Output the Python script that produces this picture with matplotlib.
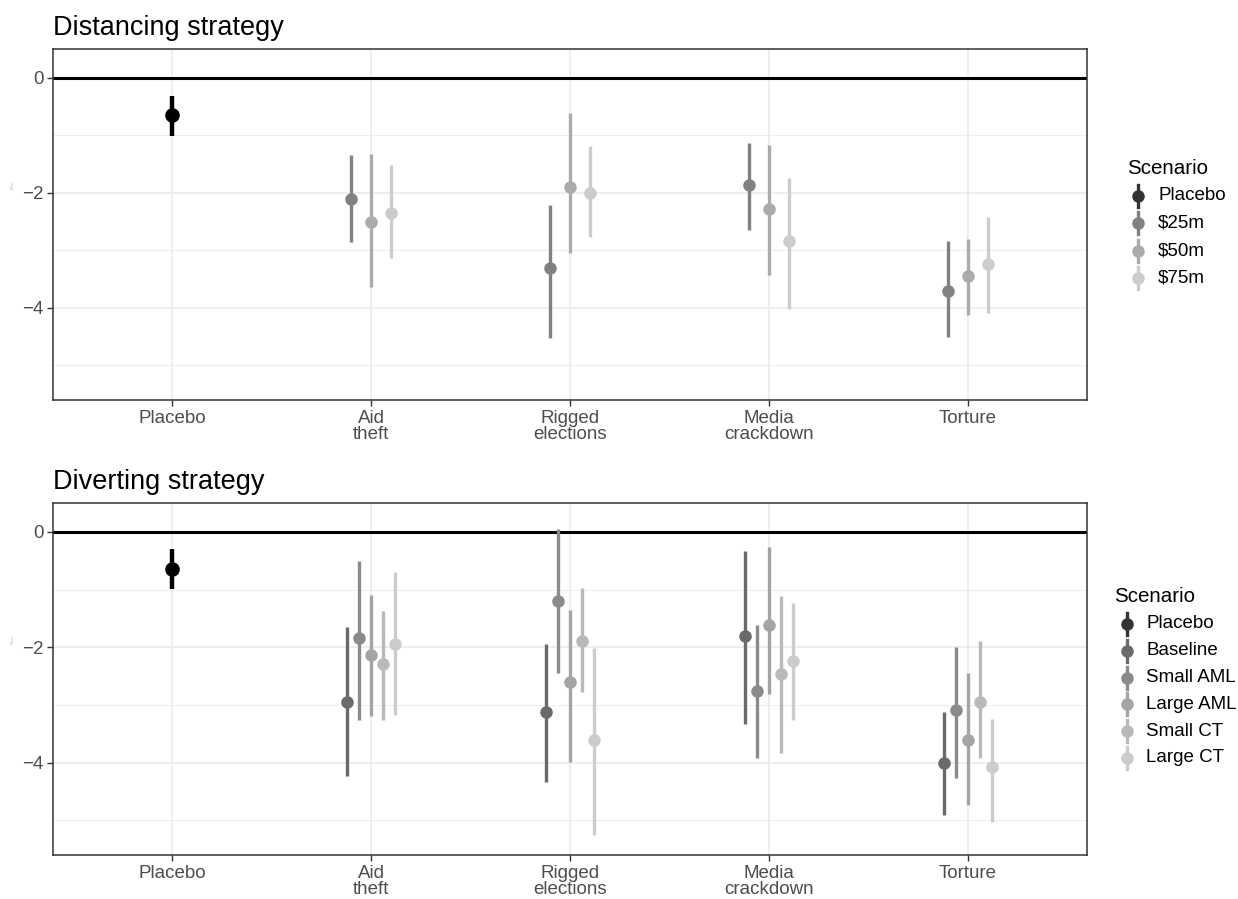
import matplotlib
matplotlib.use("Agg")
import matplotlib.pyplot as plt
from matplotlib.lines import Line2D
import numpy as np

plt.rcParams['font.family'] = ['Liberation Sans', 'DejaVu Sans']

categories = ["Placebo", "Aid\ntheft", "Rigged\nelections", "Media\ncrackdown", "Torture"]

# Placebo estimates (both panels)
placebo_top = (-0.64, -0.31, -1.01)
placebo_bot = (-0.65, -0.30, -0.99)

# Distancing strategy: treatments x (Aid, Rigged, Media, Torture)
dist_series = ["$25m", "$50m", "$75m"]
dist_est = [[-2.10, -3.30, -1.87, -3.70],
            [-2.50, -1.89, -2.28, -3.44],
            [-2.35, -2.01, -2.84, -3.24]]
dist_hi = [[-1.35, -2.21, -1.13, -2.84],
           [-1.32, -0.62, -1.17, -2.80],
           [-1.51, -1.19, -1.74, -2.42]]
dist_lo = [[-2.86, -4.53, -2.65, -4.50],
           [-3.63, -3.05, -3.42, -4.13],
           [-3.14, -2.77, -4.01, -4.08]]

# Diverting strategy
div_series = ["Baseline", "Small AML", "Large AML", "Small CT", "Large CT"]
div_est = [[-2.95, -3.13, -1.80, -4.01],
           [-1.84, -1.19, -2.76, -3.08],
           [-2.13, -2.60, -1.61, -3.60],
           [-2.29, -1.89, -2.46, -2.94],
           [-1.94, -3.60, -2.24, -4.08]]
div_hi = [[-1.65, -1.95, -0.33, -3.12],
          [-0.51, 0.05, -1.62, -2.00],
          [-1.09, -1.36, -0.27, -2.45],
          [-1.37, -0.98, -1.12, -1.89],
          [-0.70, -2.02, -1.23, -3.25]]
div_lo = [[-4.23, -4.34, -3.33, -4.90],
          [-3.26, -2.45, -3.92, -4.26],
          [-3.19, -3.99, -2.81, -4.74],
          [-3.26, -2.77, -3.84, -3.92],
          [-3.17, -5.26, -3.26, -5.02]]

dist_colors = ["#333333", "#818181", "#ABABAB", "#CCCCCC"]
div_colors = ["#333333", "#6A6A6A", "#8B8B8B", "#A4A4A4", "#B9B9B9", "#CCCCCC"]

W, H = 1238, 899
fig = plt.figure(figsize=(W / 100, H / 100), dpi=100)

def fx(px):
    return px / W

def fy(py):
    return 1 - py / H

def frac_axes(l, t, r, b):
    return fig.add_axes([l / W, 1 - b / H, (r - l) / W, (b - t) / H])

ax1 = frac_axes(53, 49, 1087, 400)
ax2 = frac_axes(53, 503, 1087, 855)

def draw_legend(labels, colors, title_x, title_y, key_x, text_x, y0, step):
    fig.text(fx(title_x), fy(title_y), "Scenario", fontsize=14.8, ha='left', va='center')
    for i, (lab, c) in enumerate(zip(labels, colors)):
        y = y0 + i * step
        fig.add_artist(Line2D([fx(key_x), fx(key_x)], [fy(y - 11), fy(y + 11)],
                              transform=fig.transFigure, color=c, linewidth=2.4))
        fig.add_artist(Line2D([fx(key_x)], [fy(y)], transform=fig.transFigure, color=c,
                              marker='o', markersize=8, linestyle='none'))
        fig.text(fx(text_x), fy(y), lab, fontsize=13.5, ha='left', va='center', color='black')

def draw_panel(ax, title, placebo, series, est, hi, lo, colors):
    ax.set_xlim(0.4, 5.6)
    ax.set_ylim(-5.6, 0.5)
    ax.set_yticks([0, -2, -4])
    ax.set_yticklabels(["0", "\u22122", "\u22124"])
    ax.set_yticks([-1, -3, -5], minor=True)
    ax.set_xticks(range(1, 6))
    ax.set_xticklabels(categories)
    ax.tick_params(axis='both', which='major', labelsize=13.5, labelcolor="#4D4D4D",
                   color="#333333", length=4, width=1)
    ax.tick_params(axis='y', which='minor', length=0)
    ax.tick_params(axis='y', pad=3)
    ax.tick_params(axis='x', pad=3)
    for lbl in ax.get_xticklabels():
        lbl.set_linespacing(0.95)
    ax.grid(which='major', color="#EBEBEB", linewidth=1.2)
    ax.grid(which='minor', axis='y', color="#EBEBEB", linewidth=0.6)
    ax.set_axisbelow(True)
    for sp in ax.spines.values():
        sp.set_color("#333333")
        sp.set_linewidth(1.1)
    ax.axhline(0, color="black", linewidth=2.2, zorder=2)
    ax.text(0, 1.0 + 14.0 / (ax.get_position().height * H), title, transform=ax.transAxes,
            fontsize=19.5, ha='left', va='baseline', color="black")

    # placebo
    ax.vlines(1, placebo[2], placebo[1], color="black", linewidth=3.2, zorder=3)
    ax.plot([1], [placebo[0]], 'o', color="black", markersize=9.5, zorder=4)

    n = len(series)
    width = 0.3
    xs = np.arange(2, 6)
    for i in range(n):
        off = (i - (n - 1) / 2) * width / n
        c = colors[i + 1]
        ax.vlines(xs + off, lo[i], hi[i], color=c, linewidth=2.4, zorder=3)
        ax.plot(xs + off, est[i], 'o', color=c, markersize=8, zorder=4, linestyle='none')

draw_panel(ax1, "Distancing strategy", placebo_top, dist_series, dist_est, dist_hi, dist_lo,
           dist_colors)
draw_panel(ax2, "Diverting strategy", placebo_bot, div_series, div_est, div_hi, div_lo,
           div_colors)

draw_legend(["Placebo"] + dist_series, dist_colors, 1127, 168, 1138, 1158, 196, 27.3)
draw_legend(["Placebo"] + div_series, div_colors, 1114, 597, 1127, 1146, 624, 26.8)

# faint tiny y-axis titles
fig.text(fx(13), fy(185), "Effect", fontsize=2.5, color="#BBBBBB", rotation=90,
         ha='center', va='center')
fig.text(fx(13), fy(640), "Effect", fontsize=2.5, color="#BBBBBB", rotation=90,
         ha='center', va='center')

fig.savefig("out.png", dpi=100, facecolor="white")
